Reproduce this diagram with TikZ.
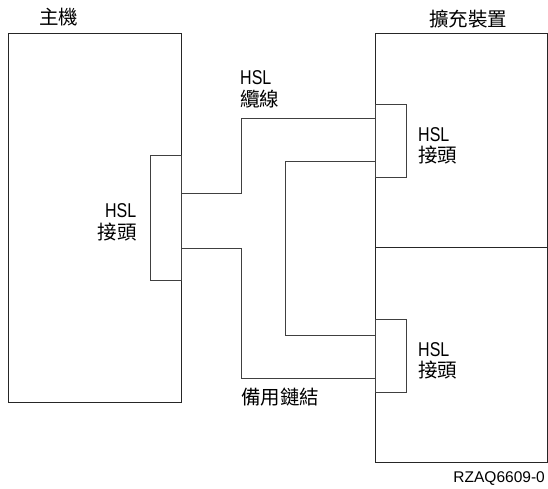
\documentclass[tikz,border=0pt]{standalone}
\usepackage{fontspec}
\setmainfont{Liberation Sans}
\newfontfamily\hslfont[FakeStretch=0.8]{Liberation Sans}
\newfontfamily\cjk{Noto Sans CJK TC}
\begin{document}
\begin{tikzpicture}[x=1pt,y=-1pt,
  box/.style={draw=black!85,line width=0.9pt},
  conn/.style={draw=black!75,line width=0.9pt,rectangle,inner sep=0pt,minimum width=31pt},
  cable/.style={draw=black!75,line width=0.9pt},
  hsl/.style={inner sep=0pt,font=\hslfont\fontsize{20}{20}\selectfont},
  zh/.style={inner sep=0pt,font=\cjk\fontsize{19.5}{20}\selectfont},
  tag/.style={inner sep=0pt,font=\fontsize{15.5}{16}\selectfont}]
\useasboundingbox (0,0) rectangle (548,488);
% boxes
\node[box,rectangle,inner sep=0pt,minimum width=173pt,minimum height=369pt,anchor=north west] (host) at (8,33) {};
\node[box,rectangle,inner sep=0pt,minimum width=172pt,minimum height=429pt,anchor=north west] (exp) at (375,33) {};
\coordinate (divL) at (375,247);
\coordinate (divR) at (547.5,247);
\draw[box] (divL) -- (divR);
% connectors
\node[conn,minimum height=125pt,anchor=north west] (hc) at (150,155) {};
\node[conn,minimum height=73pt,anchor=north west] (uc) at (375,104) {};
\node[conn,minimum height=73pt,anchor=north west] (lc) at (375,319) {};
% cables
\coordinate (c1a) at (241,193);
\coordinate (c1b) at (241,118);
\draw[cable] (hc.east |- c1a) -- (c1a) -- (c1b) -- (uc.west |- c1b);
\coordinate (c2a) at (285,161);
\coordinate (c2b) at (285,335);
\draw[cable] (uc.west |- c2a) -- (c2a) -- (c2b) -- (lc.west |- c2b);
\coordinate (c3a) at (241,248);
\coordinate (c3b) at (241,378);
\draw[cable] (hc.east |- c3a) -- (c3a) -- (c3b) -- (lc.west |- c3b);
% labels
\node[zh,anchor=base west] (thost) at (39,24) {主機};
\node[zh,anchor=base west] (texp) at (429,26) {擴充裝置};
\node[hsl,anchor=base east] (hh) at (136.5,217) {HSL};
\node[zh,anchor=base east] (hj) at (137,239) {接頭};
\node[hsl,anchor=base west] (uh) at (418,141) {HSL};
\node[zh,anchor=base west] (uj) at (418,162) {接頭};
\node[hsl,anchor=base west] (lh) at (418,356) {HSL};
\node[zh,anchor=base west] (lj) at (418,377) {接頭};
\node[hsl,anchor=base west] (ch) at (240,84) {HSL};
\node[zh,anchor=base west] (cj) at (240,106) {纜線};
\node[zh,anchor=base west] (bk) at (241,404) {備用鏈結};
\node[tag,anchor=base east] (rz) at (545,482) {RZAQ6609-0};
\end{tikzpicture}
\end{document}
